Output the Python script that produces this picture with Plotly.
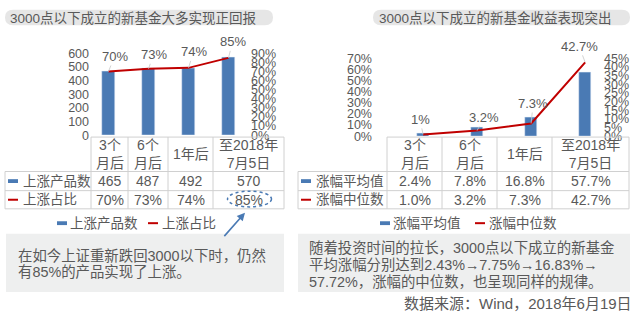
import plotly.graph_objects as go

# ---- data ----
periods = ["3个<br>月后", "6个<br>月后", "1年后", "至2018年<br>7月5日"]
up_counts = [465, 487, 492, 570]
up_ratio = [0.70, 0.73, 0.74, 0.85]
mean_gain = [0.024, 0.078, 0.168, 0.577]
median_gain = [0.010, 0.032, 0.073, 0.427]

left_title = "3000点以下成立的新基金大多实现正回报"
right_title = "3000点以下成立的新基金收益表现突出"
left_rows = ["上涨产品数", "上涨占比"]
right_rows = ["涨幅平均值", "涨幅中位数"]
left_note = ["在如今上证重新跌回3000以下时，仍然", "有85%的产品实现了上涨。"]
right_note = ["随着投资时间的拉长，3000点以下成立的新基金",
              "平均涨幅分别达到2.43%→7.75%→16.83%→",
              "57.72%，涨幅的中位数，也呈现同样的规律。"]
source = "数据来源：Wind，2018年6月19日"

# ---- styling ----
W, H = 640, 322
FONT = "Liberation Sans, Noto Sans CJK SC, sans-serif"
TXT = "#595959"
BLUE = "#4a7ab4"
RED = "#c00000"
GRID = "#d0d0d0"
BOX = "#eeefef"
PILL = "#e6e6e6"


def X(px):
    return px / W


def Y(py):
    return 1 - py / H


cats = list(range(len(periods)))

fig = go.Figure()
fig.add_trace(go.Bar(x=cats, y=up_counts, xaxis="x", yaxis="y", width=0.33,
                     marker=dict(color=BLUE), name=left_rows[0]))
fig.add_trace(go.Scatter(x=cats, y=up_ratio, xaxis="x", yaxis="y2", mode="lines",
                         line=dict(color=RED, width=2), name=left_rows[1]))
fig.add_trace(go.Bar(x=cats, y=mean_gain, xaxis="x2", yaxis="y3", width=0.22,
                     marker=dict(color=BLUE), name=right_rows[0]))
fig.add_trace(go.Scatter(x=cats, y=median_gain, xaxis="x2", yaxis="y4", mode="lines",
                         line=dict(color=RED, width=2), name=right_rows[1]))

tickfont = dict(family=FONT, size=12.5, color=TXT)
hidden_x = dict(visible=False, showgrid=False, zeroline=False)
ycommon = dict(showgrid=False, zeroline=False, showline=False, ticks="", tickfont=tickfont)

fig.update_layout(
    width=W, height=H, margin=dict(l=0, r=0, t=0, b=0),
    paper_bgcolor="white", plot_bgcolor="white", showlegend=False,
    bargap=0,
    xaxis=dict(domain=[X(90), X(250)], range=[-0.4625, 3.5375], **hidden_x),
    yaxis=dict(domain=[Y(134), Y(48.4)], range=[0, 600], dtick=100, anchor="x", **ycommon),
    yaxis2=dict(overlaying="y", side="right", anchor="x", range=[0, 0.9], dtick=0.1,
                tickformat=".0%", **ycommon),
    xaxis2=dict(domain=[X(373), X(603)], range=[-0.926, 3.33], anchor="y3", **hidden_x),
    yaxis3=dict(domain=[Y(135), Y(53.7)], range=[0, 0.7], dtick=0.1, tickformat=".0%",
                anchor="x2", **ycommon),
    yaxis4=dict(overlaying="y3", side="right", anchor="x2", range=[0, 0.45], dtick=0.05,
                tickformat=".0%", **ycommon),
)

shapes = []
ann = []


def text(px, py, s, size=14, color=TXT, xanchor="center"):
    ann.append(dict(x=X(px), y=Y(py), xref="paper", yref="paper", text=s, showarrow=False,
                    xanchor=xanchor, yanchor="middle",
                    font=dict(family=FONT, size=size, color=color)))


def hline(x0, x1, y, color=GRID, width=1):
    shapes.append(dict(type="line", xref="paper", yref="paper", x0=X(x0), x1=X(x1),
                       y0=Y(y), y1=Y(y), line=dict(color=color, width=width)))


def vline(x, y0, y1, color=GRID, width=1):
    shapes.append(dict(type="line", xref="paper", yref="paper", x0=X(x), x1=X(x),
                       y0=Y(y0), y1=Y(y1), line=dict(color=color, width=width)))


def rect(x0, y0, x1, y1, color):
    shapes.append(dict(type="rect", xref="paper", yref="paper", x0=X(x0), x1=X(x1),
                       y0=Y(y1), y1=Y(y0), fillcolor=color, line=dict(width=0), layer="below"))


def pill(x0, y0, x1, y1, r, color):
    p = (f"M{X(x0 + r)},{Y(y0)} L{X(x1 - r)},{Y(y0)} Q{X(x1)},{Y(y0)} {X(x1)},{Y(y0 + r)} "
         f"L{X(x1)},{Y(y1 - r)} Q{X(x1)},{Y(y1)} {X(x1 - r)},{Y(y1)} "
         f"L{X(x0 + r)},{Y(y1)} Q{X(x0)},{Y(y1)} {X(x0)},{Y(y1 - r)} "
         f"L{X(x0)},{Y(y0 + r)} Q{X(x0)},{Y(y0)} {X(x0 + r)},{Y(y0)} Z")
    shapes.append(dict(type="path", xref="paper", yref="paper", path=p, fillcolor=color,
                       line=dict(width=0), layer="below"))


# titles
pill(5, 3, 273, 19, 8, PILL)
text(8, 11.5, left_title, size=13.5, xanchor="left")
pill(373, 3, 630, 19, 8, PILL)
text(377, 11.5, right_title, size=13.5, xanchor="left")


def table(left, cols, row_names, row_vals, marker_x):
    top, h1, h2, bot = 136, 172, 192, 211
    hline(cols[0], cols[-1], top)
    for y in (h1, h2, bot):
        hline(left, cols[-1], y)
    vline(left, h1, bot)
    for c in cols:
        vline(c, top, bot)
    for i, p in enumerate(periods):
        cx = (cols[i] + cols[i + 1]) / 2
        text(cx, 154, p, size=14)
        text(cx, 182, row_vals[0][i], size=14)
        text(cx, 201.5, row_vals[1][i], size=14)
    # row markers
    rect(marker_x, 180, marker_x + 10, 184, BLUE)
    hline(marker_x, marker_x + 10, 201.5, RED, 2)
    text(marker_x + 13, 182, row_names[0], size=13.5, xanchor="left")
    text(marker_x + 13, 201.5, row_names[1], size=13.5, xanchor="left")


table(5, [91, 128, 168, 213, 284], left_rows,
      [[str(v) for v in up_counts], [f"{v:.0%}" for v in up_ratio]], 8)
table(298, [387, 442, 497, 552, 629], right_rows,
      [[f"{v:.1%}" for v in mean_gain], [f"{v:.1%}" for v in median_gain]], 301)


def legend(x_blue, x_red, names):
    rect(x_blue, 224, x_blue + 10, 228, BLUE)
    text(x_blue + 11, 226, names[0], size=13.5, xanchor="left")
    hline(x_red, x_red + 10, 226, RED, 2)
    text(x_red + 12, 226, names[1], size=13.5, xanchor="left")


legend(57, 148, left_rows)
legend(380, 475, right_rows)

# highlight around the latest ratio
shapes.append(dict(type="circle", xref="paper", yref="paper", x0=X(227.5), x1=X(271.5),
                   y0=Y(209), y1=Y(192.5), line=dict(color=BLUE, width=1.5, dash="dot")))
ann.append(dict(x=X(245), y=Y(215), xref="paper", yref="paper", text="", showarrow=True,
                ax=-22, ay=25, arrowhead=2, arrowsize=1, arrowwidth=1.6, arrowcolor=BLUE))

# note boxes
rect(6, 237, 284, 298, BOX)
for i, line in enumerate(left_note):
    text(16, 260 + i * 17, line, size=14.4, xanchor="left")
rect(298, 237, 630, 298, BOX)
for i, line in enumerate(right_note):
    text(307, 252 + i * 17.5, line, size=14.4, xanchor="left")

text(634, 310, source, size=15, xanchor="right")

# point labels with leader lines
left_off = [(6, -15), (5, -14), (5, -16), (4, -16)]
for i, v in enumerate(up_ratio):
    ann.append(dict(x=i, y=v, xref="x", yref="y2", text=f"{v:.0%}", showarrow=True,
                    ax=left_off[i][0], ay=left_off[i][1], arrowhead=0, arrowwidth=0.8,
                    arrowcolor="#c8c8c8", font=dict(family=FONT, size=13, color=TXT)))
right_off = [(-3, -15), (7, -13), (2, -20), (-6, -16)]
for i, v in enumerate(median_gain):
    ann.append(dict(x=i, y=v, xref="x2", yref="y4", text=f"{v * 100:g}%", showarrow=True,
                    ax=right_off[i][0], ay=right_off[i][1], arrowhead=0, arrowwidth=0.8,
                    arrowcolor="#c8c8c8", font=dict(family=FONT, size=13, color=TXT)))

fig.update_layout(shapes=shapes, annotations=ann)
fig.write_html("out.html")
